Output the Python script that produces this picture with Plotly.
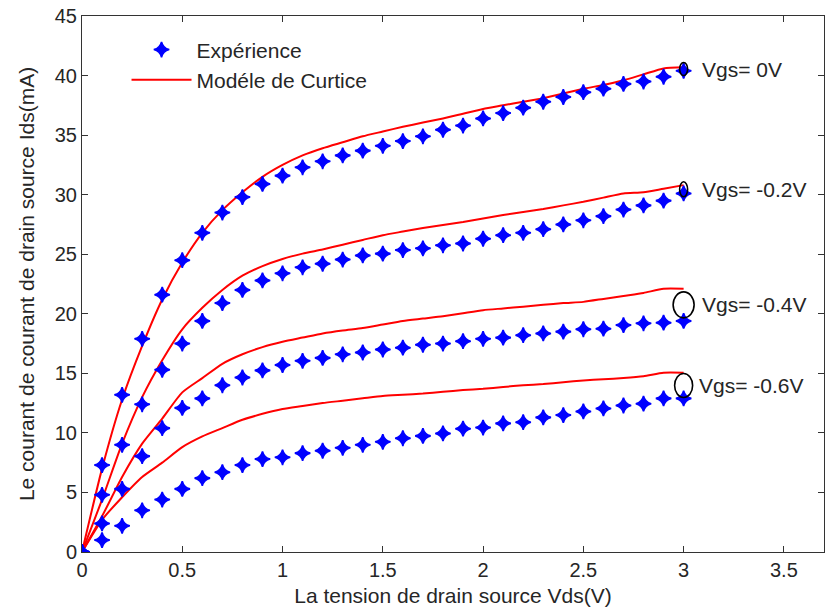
import plotly.graph_objects as go

# Vds (V)
vds = [round(0.1 * i, 1) for i in range(31)]

# Experimental Ids (mA)
exp_vgs0 = [0, 7.3, 13.2, 17.9, 21.6, 24.5, 26.8, 28.5, 29.8, 30.9, 31.6, 32.3, 32.8, 33.3, 33.7,
            34.1, 34.5, 34.9, 35.45, 35.8, 36.4, 36.85, 37.3, 37.8, 38.2, 38.6, 38.9, 39.3, 39.5, 39.9, 40.4]
exp_vgs02 = [0, 4.8, 9.0, 12.4, 15.3, 17.5, 19.4, 20.9, 22.0, 22.8, 23.4, 23.9, 24.2, 24.55, 24.9,
             25.05, 25.35, 25.5, 25.75, 25.9, 26.3, 26.6, 26.8, 27.1, 27.5, 27.85, 28.2, 28.75, 29.1, 29.5, 30.1]
exp_vgs04 = [0, 2.4, 5.3, 8.05, 10.4, 12.1, 12.9, 14.0, 14.65, 15.25, 15.7, 16.05, 16.3, 16.6, 16.75,
             17.0, 17.15, 17.4, 17.5, 17.7, 17.9, 18.0, 18.2, 18.35, 18.5, 18.7, 18.75, 19.05, 19.2, 19.25, 19.4]
exp_vgs06 = [0, 1.0, 2.2, 3.5, 4.4, 5.3, 6.2, 6.7, 7.3, 7.8, 7.95, 8.3, 8.5, 8.75, 9.0,
             9.25, 9.55, 9.75, 9.95, 10.35, 10.45, 10.8, 10.9, 11.3, 11.5, 11.8, 12.05, 12.3, 12.45, 12.9, 12.9]

# Curtice model Ids (mA)
mod_vgs0 = [0, 7.0, 12.8, 17.3, 21.2, 24.3, 26.8, 28.7, 30.2, 31.5, 32.5, 33.3, 33.9, 34.4, 34.9,
            35.3, 35.7, 36.05, 36.4, 36.8, 37.2, 37.5, 37.8, 38.1, 38.5, 38.9, 39.2, 39.6, 40.1, 40.6, 40.7]
mod_vgs02 = [0, 4.4, 9.1, 13.0, 16.1, 18.7, 20.5, 22.0, 23.2, 24.0, 24.6, 25.05, 25.4, 25.8, 26.2,
             26.6, 26.9, 27.2, 27.45, 27.7, 28.0, 28.3, 28.55, 28.8, 29.1, 29.4, 29.75, 30.1, 30.2, 30.5, 30.8]
mod_vgs04 = [0, 3.0, 6.3, 9.1, 11.2, 13.4, 14.6, 15.8, 16.6, 17.2, 17.65, 18.0, 18.35, 18.6, 18.8,
             19.1, 19.4, 19.6, 19.8, 20.05, 20.3, 20.45, 20.6, 20.75, 20.9, 21.0, 21.25, 21.5, 21.75, 22.1, 22.1]
mod_vgs06 = [0, 2.7, 4.6, 6.3, 7.5, 8.8, 9.7, 10.4, 11.1, 11.6, 12.0, 12.25, 12.5, 12.7, 12.9,
             13.1, 13.2, 13.3, 13.45, 13.6, 13.7, 13.85, 14.0, 14.1, 14.25, 14.4, 14.5, 14.6, 14.75, 15.05, 15.05]

vgs_labels = ["Vgs= 0V", "Vgs= -0.2V", "Vgs= -0.4V", "Vgs= -0.6V"]
x_ticks = [0, 0.5, 1, 1.5, 2, 2.5, 3, 3.5]
y_ticks = [0, 5, 10, 15, 20, 25, 30, 35, 40, 45]

exp_series = [exp_vgs0, exp_vgs02, exp_vgs04, exp_vgs06]
mod_series = [mod_vgs0, mod_vgs02, mod_vgs04, mod_vgs06]

FONT = "Liberation Sans, Arial, sans-serif"
TXT = "#262626"

fig = go.Figure()
for i, m in enumerate(mod_series):
    fig.add_trace(go.Scatter(x=vds, y=m, mode="lines",
                             line=dict(color="#ff0000", width=2, shape="spline", smoothing=0.6),
                             name="Modéle de Curtice", legendgroup="mod", showlegend=(i == 0),
                             legendrank=2))
for i, e in enumerate(exp_series):
    fig.add_trace(go.Scatter(x=vds, y=e, mode="markers",
                             marker=dict(symbol="star-diamond", size=11, color="#0000ff",
                                         line=dict(width=1.6, color="#0000ff")),
                             name="Expérience", legendgroup="exp", showlegend=(i == 0),
                             legendrank=1))

# ellipse markers and labels at the curve ends
ell_sizes = [(8, 13), (8, 15), (21, 26), (18, 24)]
lab_shift = [16, 16, 16, 13]
for i in range(4):
    xe = vds[-1]
    ye = (exp_series[i][-1] + mod_series[i][-1]) / 2
    w, h = ell_sizes[i]
    fig.add_shape(type="circle", xref="x", yref="y", xsizemode="pixel", ysizemode="pixel",
                  xanchor=xe, yanchor=ye, x0=-w / 2, x1=w / 2, y0=-h / 2, y1=h / 2,
                  line=dict(color="black", width=1.6), fillcolor="rgba(0,0,0,0)")
    fig.add_annotation(x=xe, y=ye, text=vgs_labels[i], showarrow=False, xanchor="left",
                       yanchor="middle", xshift=lab_shift[i],
                       font=dict(family=FONT, size=21, color=TXT))

axis_common = dict(showline=True, linecolor="#333333", linewidth=1, mirror="ticks",
                   ticks="inside", ticklen=6, tickcolor="#333333", showgrid=False, zeroline=False,
                   tickfont=dict(family=FONT, size=20, color=TXT))

fig.update_layout(
    width=825, height=611,
    margin=dict(l=82, r=1, t=16, b=59),
    paper_bgcolor="white", plot_bgcolor="white",
    xaxis=dict(range=[0, 3.7], tickvals=x_ticks, ticktext=[f"{v:g}" for v in x_ticks],
               title=dict(text="La tension de drain source Vds(V)", standoff=8,
                          font=dict(family=FONT, size=21, color=TXT)),
               **axis_common),
    yaxis=dict(range=[0, 45], tickvals=y_ticks, ticktext=[str(v) for v in y_ticks],
               title=dict(text="Le courant de courant de drain source Ids(mA)", standoff=14,
                          font=dict(family=FONT, size=21, color=TXT)),
               **axis_common),
    legend=dict(x=0.06, y=0.975, xanchor="left", yanchor="top", bgcolor="rgba(0,0,0,0)",
                font=dict(family=FONT, size=21, color=TXT), tracegroupgap=0, itemwidth=60),
    showlegend=True,
)

fig.write_html("out.html")
